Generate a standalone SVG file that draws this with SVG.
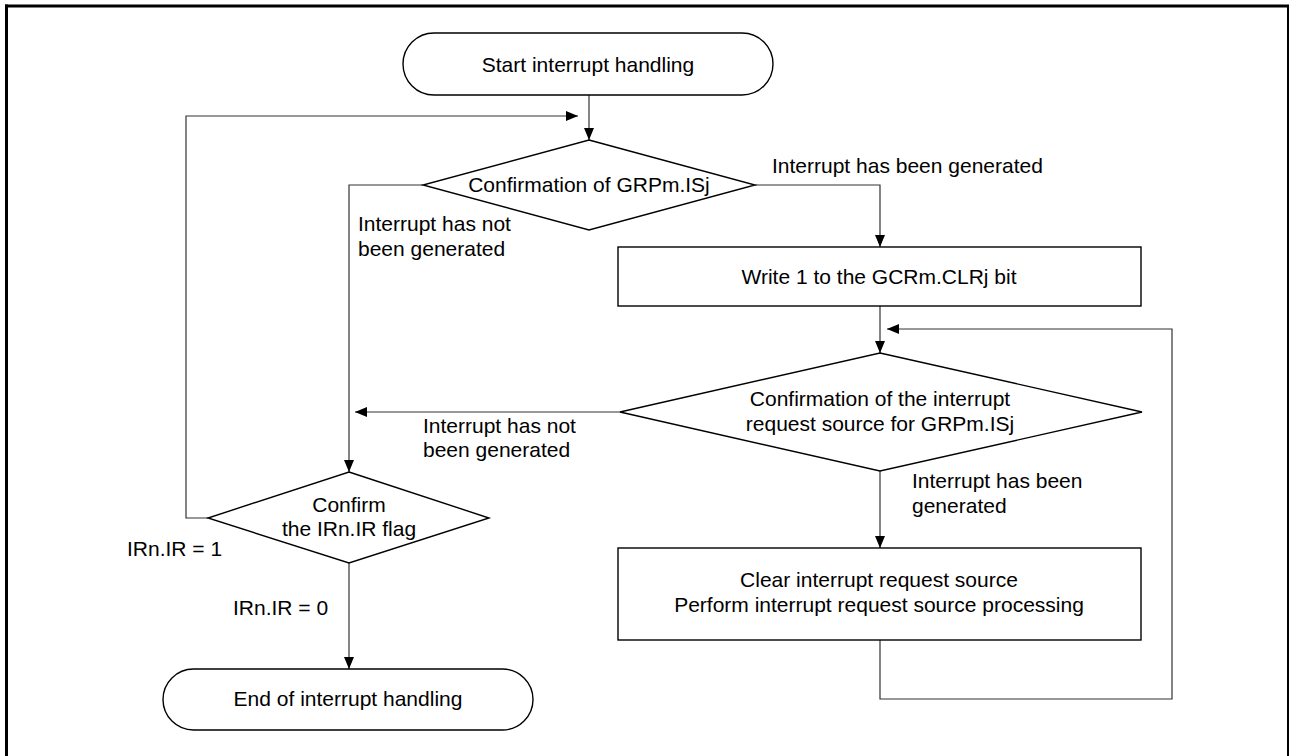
<svg xmlns="http://www.w3.org/2000/svg" width="1290" height="756" viewBox="0 0 1290 756">
<defs>
<marker id="arr" markerUnits="userSpaceOnUse" markerWidth="12" markerHeight="10" refX="12" refY="5" orient="auto">
<path d="M0,0 L12,5 L0,10 z" fill="#000"/>
</marker>
<style>
.shape{fill:#fff;stroke:#000;stroke-width:1.4}
.conn{fill:none;stroke:#333;stroke-width:1.2}
.arrow{marker-end:url(#arr)}
text{font-family:"Liberation Sans",Arial,sans-serif;font-size:21px;fill:#000}
.c{text-anchor:middle}
</style>
</defs>
<rect x="0" y="0" width="1290" height="756" fill="#fff"/>
<g id="frame" stroke="#000" fill="none">
<line x1="6.5" y1="756" x2="6.5" y2="4.5" stroke-width="3"/>
<line x1="5" y1="6" x2="1289" y2="6" stroke-width="3"/>
<line x1="1288" y1="5" x2="1288" y2="756" stroke-width="2"/>
</g>
<g id="connectors">
<path class="conn arrow" d="M589,95 V140"/>
<path class="conn arrow" d="M208,518 H186 V116 H578"/>
<path class="conn arrow" d="M423,185 H349 V472"/>
<path class="conn arrow" d="M755,185 H880 V247"/>
<path class="conn arrow" d="M880,306 V353"/>
<path class="conn arrow" d="M620,412 H355"/>
<path class="conn arrow" d="M880,471 V548"/>
<path class="conn arrow" d="M880,640 V699 H1172 V329 H887"/>
<path class="conn arrow" d="M349,563 V669"/>
</g>
<g id="labels">
<text x="772" y="173">Interrupt has been generated</text>
<text x="358" y="231">Interrupt has not</text>
<text x="358" y="256">been generated</text>
<text x="423" y="433">Interrupt has not</text>
<text x="423" y="457">been generated</text>
<text x="912" y="488">Interrupt has been</text>
<text x="912" y="513">generated</text>
<text x="127" y="556">IRn.IR = 1</text>
<text x="233" y="615">IRn.IR = 0</text>
</g>
<g id="start">
<rect class="shape" x="403" y="33" width="370" height="62" rx="31" ry="31"/>
<text class="c" x="588" y="72">Start interrupt handling</text>
</g>
<g id="dec1">
<polygon class="shape" points="589,140 755,185 589,230 423,185"/>
<text class="c" x="589" y="192">Confirmation of GRPm.ISj</text>
</g>
<g id="write">
<rect class="shape" x="618" y="247" width="523" height="59"/>
<text class="c" x="879" y="284">Write 1 to the GCRm.CLRj bit</text>
</g>
<g id="dec2">
<polygon class="shape" points="880,353 1142,412 880,471 620,412"/>
<text class="c" x="880" y="406">Confirmation of the interrupt</text>
<text class="c" x="880" y="431">request source for GRPm.ISj</text>
</g>
<g id="process">
<rect class="shape" x="618" y="548" width="523" height="92"/>
<text class="c" x="879" y="587">Clear interrupt request source</text>
<text class="c" x="879" y="612">Perform interrupt request source processing</text>
</g>
<g id="dec3">
<polygon class="shape" points="349,472 489,518 349,563 208,518"/>
<text class="c" x="349" y="512">Confirm</text>
<text class="c" x="349" y="536">the IRn.IR flag</text>
</g>
<g id="end">
<rect class="shape" x="163" y="669" width="370" height="61" rx="30.5" ry="30.5"/>
<text class="c" x="348" y="706">End of interrupt handling</text>
</g>
</svg>
